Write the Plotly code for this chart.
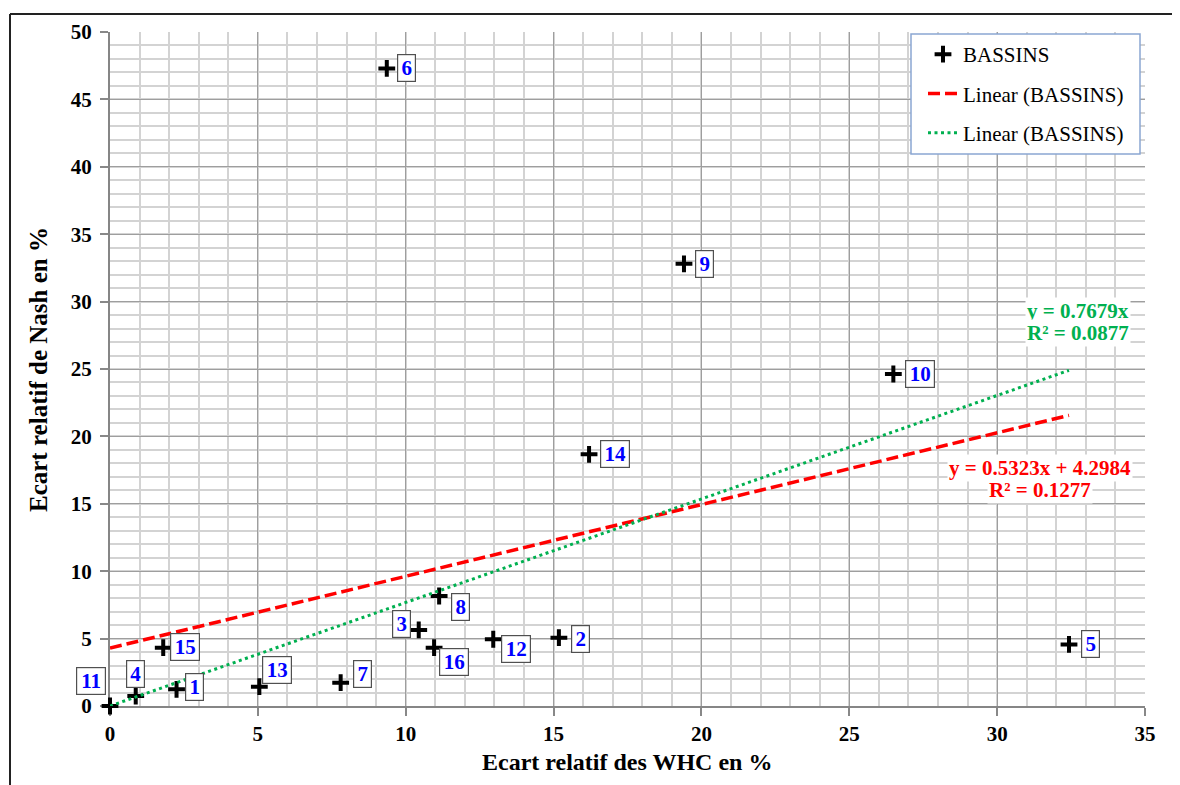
import plotly.graph_objects as go

# ---------------- data ----------------
basin_ids = ["1", "2", "3", "4", "5", "6", "7", "8", "9", "10", "11", "12", "13", "14", "15", "16"]
whc_gap = [2.25, 15.18, 10.44, 0.87, 32.43, 9.36, 7.80, 11.13, 19.41, 26.49, 0.0, 12.96, 5.05, 16.20, 1.80, 10.96]
nash_gap = [1.24, 5.07, 5.64, 0.74, 4.57, 47.30, 1.73, 8.16, 32.80, 24.63, 0.0, 4.95, 1.43, 18.67, 4.33, 4.33]

affine_slope, affine_intercept, affine_r2 = 0.5323, 4.2984, 0.1277
origin_slope, origin_r2 = 0.7679, 0.0877

x_ticks = [0, 5, 10, 15, 20, 25, 30, 35]
y_ticks = [0, 5, 10, 15, 20, 25, 30, 35, 40, 45, 50]

# ---------------- styling ----------------
SERIF = "Liberation Serif, Times New Roman, serif"
GREEN = "#00B050"
RED = "#FF0000"
BLUE = "#0000FF"

# label box offsets (pixels, dx right, dy down) relative to each point
label_offsets = {
    "1": (18, -2), "2": (22, 1), "3": (-17, -6), "4": (0, -22), "5": (21, 0),
    "6": (20, 0), "7": (22, -9), "8": (21, 11), "9": (21, 0), "10": (27, 0),
    "11": (-19, -25), "12": (23, 10), "13": (18, -17), "14": (26, 0),
    "15": (22, -1), "16": (20, 14),
}

# page offset (html body margin) and plot-area geometry in page pixels
OFF = 8
W, H = 1180 - OFF, 785 - OFF
PL, PR, PT, PB = 110, 1145, 32, 706  # plot area in page coords
ML, MR, MT, MB = PL - OFF, (OFF + W) - PR, PT - OFF, (OFF + H) - PB
PW, PH = PR - PL, PB - PT


def px2paper_x(px):
    return (px - PL) / PW


def px2paper_y(py):
    return (PB - py) / PH


fig = go.Figure()

fig.add_trace(go.Scatter(
    x=whc_gap, y=nash_gap, mode="markers", name="BASSINS",
    marker=dict(symbol="cross-thin", size=12, color="black",
                line=dict(width=4, color="black")),
    cliponaxis=False, legendgroup="a", hoverinfo="x+y",
))

x_fit = [min(whc_gap), max(whc_gap)]
fig.add_trace(go.Scatter(
    x=x_fit, y=[affine_slope * v + affine_intercept for v in x_fit],
    mode="lines", name="Linear (BASSINS)",
    line=dict(color=RED, width=3.5, dash="12px,5px"),
    legendgroup="b",
))
fig.add_trace(go.Scatter(
    x=x_fit, y=[origin_slope * v for v in x_fit],
    mode="lines", name="Linear (BASSINS)",
    line=dict(color=GREEN, width=3, dash="3px,3.5px"),
    legendgroup="c",
))

annotations = []
for bid, xv, yv in zip(basin_ids, whc_gap, nash_gap):
    dx, dy = label_offsets[bid]
    annotations.append(dict(
        x=xv, y=yv, xref="x", yref="y", text=bid, showarrow=False,
        xshift=dx, yshift=-dy, xanchor="center", yanchor="middle",
        font=dict(family=SERIF, size=21, color=BLUE, weight="bold"),
        bgcolor="white", bordercolor="#505050", borderwidth=1.2, borderpad=1,
        width=15 if len(bid) == 1 else 26, height=24,
    ))

# trendline equations (one annotation per text line)
green_lines = [f"y = {origin_slope:.4f}x", f"R² = {origin_r2:.4f}"]
red_lines = [f"y = {affine_slope:.4f}x + {affine_intercept:.4f}", f"R² = {affine_r2:.4f}"]
for txt, py in zip(green_lines, [311, 333]):
    annotations.append(dict(
        x=px2paper_x(1078), y=px2paper_y(py), xref="paper", yref="paper", showarrow=False,
        text=txt, font=dict(family=SERIF, size=21, color=GREEN, weight="bold"),
        bgcolor="white", borderpad=1, xanchor="center", yanchor="middle",
    ))
for txt, py in zip(red_lines, [468, 490]):
    annotations.append(dict(
        x=px2paper_x(1040), y=px2paper_y(py), xref="paper", yref="paper", showarrow=False,
        text=txt, font=dict(family=SERIF, size=21, color=RED, weight="bold"),
        bgcolor="white", borderpad=1, xanchor="center", yanchor="middle",
    ))

# axis titles
annotations.append(dict(
    x=px2paper_x(627), y=px2paper_y(762), xref="paper", yref="paper", showarrow=False,
    text="Ecart relatif des WHC en %", xanchor="center", yanchor="middle",
    font=dict(family=SERIF, size=24, color="black", weight="bold"),
))
annotations.append(dict(
    x=px2paper_x(38), y=px2paper_y(370), xref="paper", yref="paper", showarrow=False,
    textangle=-90, text="Ecart relatif de Nash en %", xanchor="center", yanchor="middle",
    font=dict(family=SERIF, size=25, color="black", weight="bold"),
))

shapes = [
    # legend box
    dict(type="rect", xref="paper", yref="paper",
         x0=px2paper_x(911), x1=px2paper_x(1140), y0=px2paper_y(154), y1=px2paper_y(34),
         fillcolor="white", line=dict(color="#8AA6D2", width=1.5), layer="above"),
    # outer chart frame
    dict(type="line", xref="paper", yref="paper",
         x0=px2paper_x(10), x1=px2paper_x(10), y0=px2paper_y(790), y1=px2paper_y(14),
         line=dict(color="#222", width=2)),
    dict(type="line", xref="paper", yref="paper",
         x0=px2paper_x(10), x1=px2paper_x(1185), y0=px2paper_y(14), y1=px2paper_y(14),
         line=dict(color="#222", width=2)),
]

axis_common = dict(
    showline=True, linecolor="#868686", linewidth=2,
    ticks="outside", ticklen=8, tickcolor="#888888", tickwidth=1.5,
    showgrid=True, gridcolor="#9e9e9e", gridwidth=1.2,
    zeroline=False, layer="below traces",
    tickfont=dict(family=SERIF, size=21, color="black", weight="bold"),
    minor=dict(dtick=1, showgrid=True, gridcolor="#d3d3d3", gridwidth=2, ticks=""),
)

fig.update_layout(
    width=W, height=H, autosize=False,
    margin=dict(l=ML, r=MR, t=MT, b=MB),
    paper_bgcolor="white", plot_bgcolor="white",
    xaxis=dict(range=[0, 35], tickvals=x_ticks, tickformat="d", **axis_common),
    yaxis=dict(range=[0, 50], tickvals=y_ticks, tickformat="d", ticklabelstandoff=4, **axis_common),
    showlegend=True,
    legend=dict(
        x=px2paper_x(923), y=px2paper_y(34), xanchor="left", yanchor="top",
        bgcolor="rgba(0,0,0,0)", borderwidth=0,
        font=dict(family=SERIF, size=21, color="black"),
        tracegroupgap=9, itemwidth=30,
    ),
    annotations=annotations,
    shapes=shapes,
)

fig.write_html("out.html")
